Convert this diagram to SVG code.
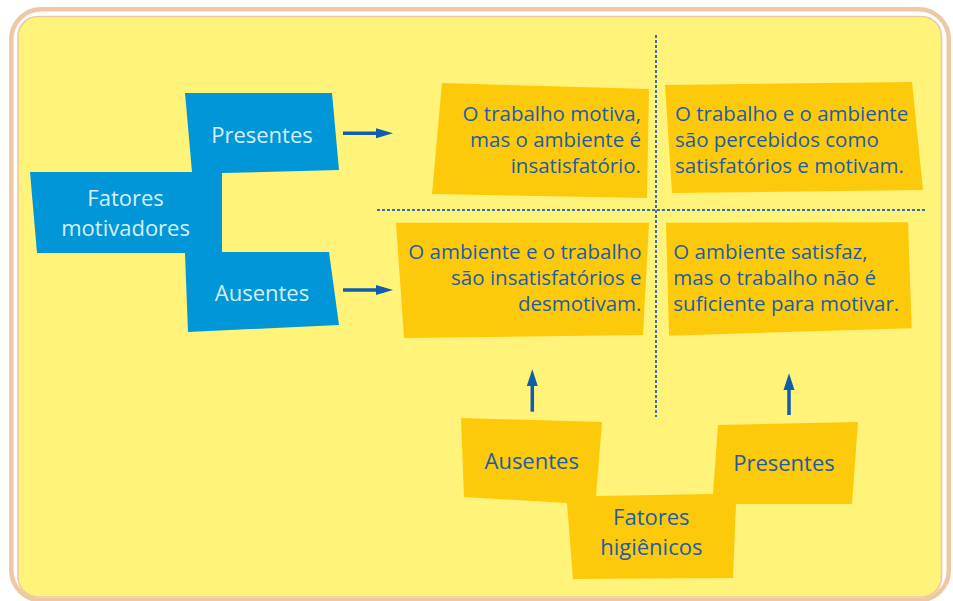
<svg xmlns="http://www.w3.org/2000/svg" width="953" height="601" viewBox="0 0 953 601">
<defs>
<style>
.frame-outer{fill:none;stroke:#EEC8A3;stroke-width:4.5}
.frame-inner{fill:#FFF37A;stroke:#EEC8A3;stroke-width:1.6}
.blue{fill:#0096D8}
.yel{fill:#FCCA0B}
.lt{font-family:"Open Sans","Noto Sans","DejaVu Sans",sans-serif;font-size:22px;fill:#D6F0FA}
.dk{font-family:"Open Sans","Noto Sans","DejaVu Sans",sans-serif;font-size:22px;fill:#1E5CA8}
.tx{font-family:"Open Sans","Noto Sans","DejaVu Sans",sans-serif;font-size:20.5px;fill:#1E5CA8}
.dash{stroke:#3A6DB5;stroke-width:2;stroke-dasharray:3 2;fill:none}
.arr{stroke:#0D5EAC;stroke-width:3.5;fill:none}
.head{fill:#0D5EAC}
</style>
</defs>
<rect class="frame-outer" x="11.3" y="9.3" width="937.5" height="591" rx="30"/>
<rect class="frame-inner" x="18" y="16.5" width="923.5" height="580.5" rx="20"/>

<g id="connectors">
<line class="dash" x1="656" y1="35" x2="656" y2="417"/>
<line class="dash" x1="377" y1="210" x2="926" y2="210"/>
<line class="arr" x1="343" y1="133.3" x2="378" y2="133.3"/>
<polygon class="head" points="393,133.3 376,128.3 376,138.3"/>
<line class="arr" x1="343" y1="290" x2="378" y2="290"/>
<polygon class="head" points="393,290 376,285 376,295"/>
<line class="arr" x1="532.3" y1="411.7" x2="532.3" y2="384"/>
<polygon class="head" points="532.3,369.3 526.8,386 537.8,386"/>
<line class="arr" x1="789" y1="415" x2="789" y2="388"/>
<polygon class="head" points="789,373.3 783.5,390 794.5,390"/>
</g>

<g id="fatores-motivadores">
<polygon class="blue" points="185,93 332,93 339,170 222,173 222,252 329,252 339,325 188,332 185,253 37,253 30,172 192,172"/>
<text class="lt" x="262" y="142.5" text-anchor="middle">Presentes</text>
<text class="lt" x="125.6" y="206" text-anchor="middle">Fatores</text>
<text class="lt" x="125.6" y="235.5" text-anchor="middle">motivadores</text>
<text class="lt" x="262" y="301" text-anchor="middle">Ausentes</text>
</g>

<g id="q-top-left">
<polygon class="yel" points="442,83 649,89 647,198 432,194"/>
<text class="tx" text-anchor="end"><tspan x="641" y="120.7">O trabalho motiva,</tspan><tspan x="641" y="147.3">mas o ambiente é</tspan><tspan x="641" y="173.3">insatisfatório.</tspan></text>
</g>

<g id="q-top-right">
<polygon class="yel" points="665,85 912,82 923,190 672,193"/>
<text class="tx"><tspan x="675" y="120.7">O trabalho e o ambiente</tspan><tspan x="675" y="147.3">são percebidos como</tspan><tspan x="675" y="173.3">satisfatórios e motivam.</tspan></text>
</g>

<g id="q-bottom-left">
<polygon class="yel" points="396,222.7 649,222.7 643,335 404,338"/>
<text class="tx" text-anchor="end"><tspan x="641.5" y="258.5">O ambiente e o trabalho</tspan><tspan x="641.5" y="285">são insatisfatórios e</tspan><tspan x="641.5" y="310.7">desmotivam.</tspan></text>
</g>

<g id="q-bottom-right">
<polygon class="yel" points="666,222.7 908,222.3 911.7,328.3 669,335.7"/>
<text class="tx"><tspan x="673.3" y="259">O ambiente satisfaz,</tspan><tspan x="673.3" y="285">mas o trabalho não é</tspan><tspan x="673.3" y="310.7">suficiente para motivar.</tspan></text>
</g>

<g id="fatores-higienicos">
<polygon class="yel" points="461,418 602,422 596,496 713,494 718,425 858,422 852,504 736,504 733,578 573,579 567,503 464,497"/>
<text class="dk" x="531.7" y="469.3" text-anchor="middle">Ausentes</text>
<text class="dk" x="784" y="470.7" text-anchor="middle">Presentes</text>
<text class="dk" x="651.3" y="525" text-anchor="middle">Fatores</text>
<text class="dk" x="651.3" y="555" text-anchor="middle">higiênicos</text>
</g>
</svg>
